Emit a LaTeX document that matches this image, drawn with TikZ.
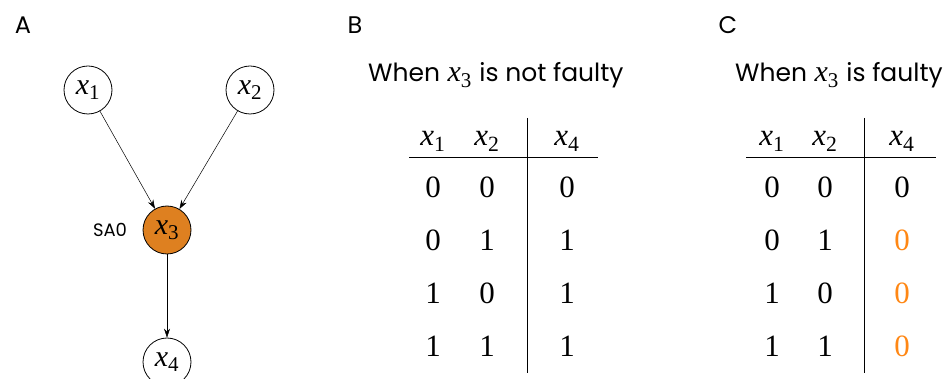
\documentclass[tikz,border=0pt]{standalone}
\usepackage{amsmath}
\usepackage{fontspec}
\setmainfont{Liberation Serif}
\newfontfamily\gothic{Poppins}
\usepackage{xcolor}
\usetikzlibrary{arrows.meta}

\definecolor{faultorange}{RGB}{222,128,32}
\definecolor{textorange}{RGB}{255,135,20}
\newcommand{\xvar}[1]{\textit{x}$_{\text{#1}}$}

\begin{document}
\begin{tikzpicture}[x=1pt, y=-1pt,
    var/.style={draw, circle, minimum size=48pt, inner sep=0pt, line width=0.8pt, font=\fontsize{30}{32}\selectfont},
    faulty/.style={var, fill=faultorange},
    edge/.style={-{Stealth[length=9pt,width=6pt]}, line width=0.5pt},
    panel/.style={font=\gothic\fontsize{24}{26}\selectfont},
    title/.style={anchor=base west, inner sep=0pt, font=\fontsize{30}{32}\selectfont},
    cell/.style={anchor=base, inner sep=0pt, font=\fontsize{31}{33}\selectfont},
    rule/.style={line width=0.6pt}]
    \useasboundingbox (0,0) rectangle (946,379);

    % A: the circuit
    \node[panel] (pa) at (23,25) {A};
    \node[var] (x1) at (88,90) {\xvar{1}};
    \node[var] (x2) at (250,90) {\xvar{2}};
    \node[faulty] (x3) at (167,230) {\xvar{3}};
    \node[var] (x4) at (167,362) {\xvar{4}};
    \node[panel, font=\gothic\fontsize{18}{20}\selectfont] (sa0) at (110,230) {SA0};
    \draw[edge] (x1) -- (x3);
    \draw[edge] (x2) -- (x3);
    \draw[edge] (x3) -- (x4);

    % B: x3 not faulty
    \node[panel] (pb) at (355,25) {B};
    \node[title] (tb) at (368,82) {{\gothic\fontsize{25}{27}\selectfont When} \xvar{3} {\gothic\fontsize{25}{27}\selectfont is not faulty}};
    \node[cell] (bh1) at (433,146) {\xvar{1}};
    \node[cell] (bh2) at (487,146) {\xvar{2}};
    \node[cell] (bh4) at (567,146) {\xvar{4}};
    \draw[rule] (409,157) -- (598,157);
    \draw[rule] (527,118) -- (527,373);
    \foreach \a/\b/\c [count=\r] in {0/0/0, 0/1/1, 1/0/1, 1/1/1} {
        \node[cell] (b\r a) at (433,145+53*\r) {\a};
        \node[cell] (b\r b) at (487,145+53*\r) {\b};
        \node[cell] (b\r c) at (567,145+53*\r) {\c};
    }

    % C: x3 faulty
    \node[panel] (pc) at (728,25) {C};
    \node[title] (tc) at (735,82) {{\gothic\fontsize{25}{27}\selectfont When} \xvar{3} {\gothic\fontsize{25}{27}\selectfont is faulty}};
    \node[cell] (ch1) at (772,146) {\xvar{1}};
    \node[cell] (ch2) at (825,146) {\xvar{2}};
    \node[cell] (ch4) at (902,146) {\xvar{4}};
    \draw[rule] (746,157) -- (936,157);
    \draw[rule] (864,118) -- (864,373);
    \foreach \a/\b/\c/\col [count=\r] in {0/0/0/black, 0/1/0/textorange, 1/0/0/textorange, 1/1/0/textorange} {
        \node[cell] (c\r a) at (772,145+53*\r) {\a};
        \node[cell] (c\r b) at (825,145+53*\r) {\b};
        \node[cell, text=\col] (c\r c) at (902,145+53*\r) {\c};
    }
\end{tikzpicture}
\end{document}
